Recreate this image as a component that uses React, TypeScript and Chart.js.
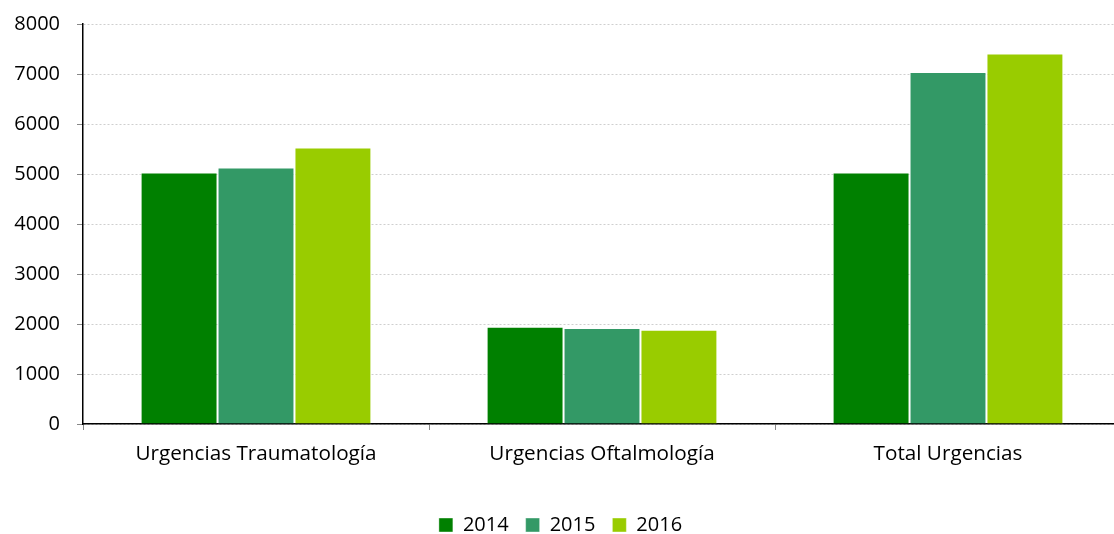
import React, { useEffect, useRef } from "react";
import { Chart, registerables } from "chart.js";

Chart.register(...registerables);

const categories = ["Urgencias Traumatología", "Urgencias Oftalmología", "Total Urgencias"];
const seriesNames = ["2014", "2015", "2016"];
const values2014 = [5030, 1945, 5030];
const values2015 = [5130, 1918, 7040];
const values2016 = [5530, 1885, 7410];
const seriesColors = ["#008000", "#339966", "#99CC00"];
const yTicks = [0, 1000, 2000, 3000, 4000, 5000, 6000, 7000, 8000];

const FONT = "'Open Sans', sans-serif";

export default function App() {
  const ref = useRef<HTMLCanvasElement>(null);
  useEffect(() => {
    document.body.style.margin = "0";
    const ctx = ref.current!.getContext("2d")!;
    const data = [values2014, values2015, values2016];
    const chart = new Chart(ctx, {
      type: "bar",
      data: {
        labels: categories,
        datasets: seriesNames.map((n, i) => ({
          label: n,
          data: data[i],
          backgroundColor: seriesColors[i],
          borderColor: "rgba(255,255,255,0.4)",
          borderWidth: 1,
          categoryPercentage: 0.667,
          barPercentage: 1,
        })),
      },
      options: {
        responsive: false,
        animation: false,
        layout: { padding: { top: 24, right: 0, left: 0, bottom: 0 } },
        plugins: {
          tooltip: { enabled: false },
          legend: {
            position: "bottom",
            labels: {
              font: { family: FONT, size: 20 },
              color: "#000",
              boxWidth: 14,
              boxHeight: 14,
              padding: 17,
            },
          },
        },
        scales: {
          x: {
            grid: {
              display: true,
              drawOnChartArea: false,
              drawTicks: true,
              offset: true,
              tickLength: 6,
              color: "#888",
            },
            border: { display: true, color: "#000", width: 1.5 },
            ticks: { font: { family: FONT, size: 20.7 }, color: "#000", padding: 12 },
            afterFit: (s: any) => {
              s.height = 63;
              s.paddingLeft = 0;
              s.paddingRight = 0;
            },
          },
          y: {
            min: 0,
            max: 8000,
            afterBuildTicks: (s: any) => {
              s.ticks = yTicks.map((v) => ({ value: v }));
            },
            grid: {
              color: "#cfcfcf",
              tickColor: "#888",
              tickLength: 6,
              drawTicks: true,
            },
            border: { display: true, color: "#000", width: 1.5, dash: [2, 2] },
            ticks: {
              font: { family: FONT, size: 20 },
              color: "#000",
              padding: 17,
              callback: (v: any) => String(v),
            },
            afterFit: (s: any) => {
              s.width = 83;
              s.paddingTop = 0;
              s.paddingBottom = 0;
            },
          },
        },
      },
      plugins: [
        {
          id: "shiftLegend",
          afterLayout: (c: any) => {
            if (c.legend) {
              c.legend.top += 11;
              c.legend.bottom += 11;
            }
          },
        },
      ],
    } as any);
    return () => chart.destroy();
  }, []);
  return (
    <div style={{ width: 1114, height: 534, overflow: "hidden" }}>
      <canvas ref={ref} width={1121} height={534} style={{ display: "block" }} />
    </div>
  );
}
